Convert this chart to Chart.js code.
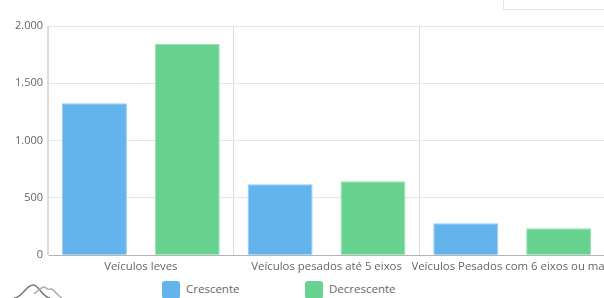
<!DOCTYPE html>
<html>
<head>
<meta charset="utf-8">
<script src="https://cdn.jsdelivr.net/npm/chart.js@4/dist/chart.umd.min.js"></script>
<style>
  html, body { margin: 0; padding: 0; background: #fff; overflow: hidden; width: 604px; height: 298px; }
  body { position: relative; font-family: "Open Sans", sans-serif; }
  #wrap { position: absolute; left: 0; top: 0; }
  .select-box { position: absolute; left: 503px; top: -30px; width: 130px; height: 38px; border: 1px solid #e4e4e4; background: #fff; }
  .legend { position: absolute; top: 280px; font-size: 11.5px; color: #666; }
  .legend span.box { position: absolute; left: 0; top: 1px; width: 18px; height: 18px; border-radius: 3px; }
  .legend span.txt { position: absolute; left: 24px; top: 1px; white-space: nowrap; }
  .logo { position: absolute; left: 12px; top: 280px; }
</style>
</head>
<body>
<div class="select-box"></div>
<div id="wrap"><canvas id="barChart" width="618" height="279"></canvas></div>
<div class="legend" id="leg1" style="left:162px"><span class="box" style="background:#63b3ed"></span><span class="txt">Crescente</span></div>
<div class="legend" id="leg2" style="left:305px"><span class="box" style="background:#68d391"></span><span class="txt">Decrescente</span></div>
<svg class="logo" width="60" height="20" viewBox="0 0 60 20">
  <path d="M2 18 C10 18 14 5 21 5 C27 5 30 17 38 18" fill="none" stroke="#777" stroke-width="1.5"/>
  <path d="M22 14 C27 10 29 7 32 7 C35 7 35 11 38 9 C41 7 43 14 50 18" fill="none" stroke="#aaa" stroke-width="1.3"/>
</svg>
<script>
const categories = ['Veículos leves', 'Veículos pesados até 5 eixos', 'Veículos Pesados com 6 eixos ou mais'];
const crescente = [1327, 620, 280];
const decrescente = [1843, 646, 236];
const yTicks = [0, 500, 1000, 1500, 2000];

function fmt(v) {
  return String(v).replace(/\B(?=(\d{3})+(?!\d))/g, '.');
}

const ctx = document.getElementById('barChart').getContext('2d');
const myChart = new Chart(ctx, {
  type: 'bar',
  data: {
    labels: categories,
    datasets: [{
      label: 'Crescente',
      data: crescente,
      backgroundColor: '#63b3ed',
      borderColor: '#94cbf3',
      borderWidth: 1,
      categoryPercentage: 1,
      barPercentage: 0.7
    }, {
      label: 'Decrescente',
      data: decrescente,
      backgroundColor: '#68d391',
      borderColor: '#97e2b2',
      borderWidth: 1,
      categoryPercentage: 1,
      barPercentage: 0.7
    }]
  },
  options: {
    responsive: false,
    animation: false,
    layout: { padding: { top: 26, right: 0, left: 0, bottom: 0 } },
    plugins: {
      legend: { display: false },
      tooltip: { enabled: false }
    },
    scales: {
      x: {
        grid: { color: '#dcdcdc', drawTicks: false, offset: true },
        border: { color: '#b5b5b5' },
        ticks: { color: '#666', font: { family: 'Open Sans', size: 11.4 }, padding: 5, maxRotation: 0, autoSkip: false }
      },
      y: {
        min: 0,
        max: 2000,
        afterBuildTicks: (axis) => { axis.ticks = yTicks.map(v => ({ value: v })); },
        afterFit: (axis) => { axis.width = 48; },
        grid: { color: '#e6e6e6', drawTicks: false },
        border: { color: '#dcdcdc' },
        ticks: { color: '#666', font: { family: 'Open Sans', size: 11 }, padding: 5, callback: (v) => fmt(v) }
      }
    }
  }
});
</script>
</body>
</html>
